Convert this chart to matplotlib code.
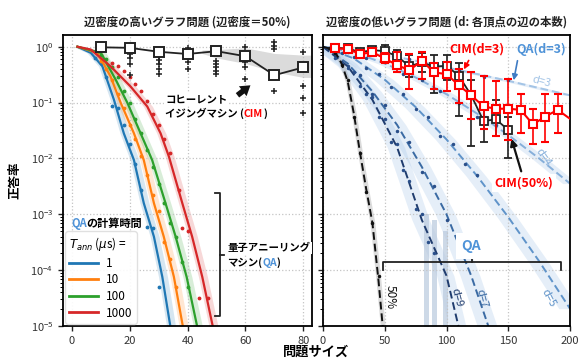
import numpy as np
import matplotlib
matplotlib.use("Agg")
import matplotlib.pyplot as plt
from matplotlib.lines import Line2D

plt.rcParams['font.family'] = ['Noto Sans CJK JP', 'DejaVu Sans']
plt.rcParams['mathtext.fontset'] = 'dejavusans'

W, H = 582, 360

# ---------------- left panel: QA curves (log10 of success probability) ----------------
qa1_x = [2, 6.6, 10.6, 14.6, 18, 21.5, 24.9, 28.4, 31.3, 33.9, 35]
qa1_log = [0, -0.11, -0.35, -0.95, -1.55, -2.03, -2.8, -3.4, -4.12, -4.95, -5.3]
qa10_x = [2, 8.9, 13.4, 16.9, 21.5, 24.9, 28.4, 31.8, 35.3, 38.2, 39.5]
qa10_log = [0, -0.11, -0.53, -1.0, -1.55, -2.03, -2.8, -3.4, -4.12, -4.95, -5.3]
qa100_x = [2, 10.1, 15.2, 19.2, 23.8, 27.8, 32.4, 35.9, 39.7, 43.1, 44.5]
qa100_log = [0, -0.11, -0.59, -1.0, -1.55, -2.03, -2.8, -3.4, -4.12, -4.95, -5.3]
qa1000_x = [2, 6.6, 13.4, 20.3, 26.1, 30.7, 33.6, 38.2, 41.6, 45.1, 48.5, 50]
qa1000_log = [0, -0.05, -0.35, -0.71, -1.07, -1.55, -1.97, -2.8, -3.4, -4.12, -4.95, -5.3]

qa1_dot_x = [8, 10, 12, 14, 16, 18, 20, 22, 24, 26, 28, 30]
qa1_dot_log = [-0.2, -0.3, -0.55, -1.06, -1.1, -1.4, -1.75, -2.1, -2.56, -3.22, -3.25, -4.3]
qa10_dot_x = [10, 12, 14, 16, 18, 20, 22, 24, 26, 28, 30, 32, 34, 36]
qa10_dot_log = [-0.25, -0.4, -0.6, -0.85, -1.1, -1.4, -1.65, -1.95, -2.3, -2.65, -2.95, -3.5, -3.8, -4.3]
qa100_dot_x = [10, 12, 14, 16, 18, 20, 22, 24, 26, 28, 30, 32, 34, 36, 38, 40]
qa100_dot_log = [-0.15, -0.22, -0.37, -0.55, -0.8, -1.0, -1.3, -1.55, -1.85, -2.15, -2.45, -2.8, -3.15, -3.4, -3.85, -4.3]
qa1000_dot_x = [14, 16, 18, 20, 22, 24, 26, 28, 30, 32, 34, 37, 38, 40, 44, 47]
qa1000_dot_log = [-0.3, -0.34, -0.43, -0.55, -0.67, -0.79, -0.98, -1.2, -1.4, -1.65, -1.9, -2.56, -3.25, -3.3, -4.5, -4.5]

t_ann = ['1', '10', '100', '1000']
qa_colors = ['#1f77b4', '#ff7f0e', '#2ca02c', '#d62728']

# left panel: CIM
cim_hd_x = [10, 20, 30, 40, 50, 60, 70, 80]
cim_hd_log = [-0.01, -0.02, -0.09, -0.13, -0.08, -0.17, -0.51, -0.37]
cim_hd_runs = [[0.0],
               [-0.13, -0.21, -0.31, -0.51],
               [-0.16, -0.23, -0.31, -0.40, -0.49],
               [-0.02, -0.28, -0.40],
               [-0.04, -0.25, -0.31, -0.37, -0.43, -0.49],
               [-0.01, -0.28, -0.37, -0.58],
               [0.08, 0.02, -0.04, -0.79],
               [-0.10, -0.70, -0.91, -1.18]]
cim_band_x = [45, 50, 60, 70, 80, 83]
cim_band_hi = [-0.06, -0.05, -0.02, -0.12, -0.15, -0.15]
cim_band_lo = [-0.12, -0.20, -0.30, -0.45, -0.55, -0.55]

# ---------------- right panel ----------------
qa50_x = [0, 5, 10, 15, 20, 25, 30, 35, 40, 45, 50]
qa50_log = [0, -0.03, -0.1, -0.3, -0.62, -1.2, -1.9, -2.55, -3.15, -4.2, -5.4]
qa50_dot_x = [5, 10, 15, 20, 25, 30, 35, 40, 45]
qa50_dot_log = [-0.03, -0.12, -0.32, -0.6, -1.25, -1.9, -2.6, -3.15, -4.1]

d_labels = ['d=3', 'd=4', 'd=5', 'd=7', 'd=9']
d_colors = ['#a3c4e6', '#86afda', '#5f93c9', '#3a6aa3', '#1f3c6e']
qad_x = [[0, 25, 50, 75, 100, 125, 150, 175, 200],
         [0, 25, 50, 75, 100, 125, 150, 175, 200],
         [0, 25, 50, 75, 100, 125, 150, 175, 200],
         [0, 20, 40, 60, 80, 100, 120, 140],
         [0, 20, 40, 60, 80, 100, 115]]
qad_log = [[0, -0.05, -0.14, -0.25, -0.37, -0.49, -0.61, -0.74, -0.87],
           [0, -0.1, -0.3, -0.55, -0.85, -1.2, -1.58, -2.0, -2.45],
           [0, -0.21, -0.59, -1.08, -1.66, -2.32, -3.05, -3.84, -4.69],
           [0, -0.3, -0.8, -1.4, -2.15, -3.0, -4.1, -5.4],
           [0, -0.35, -0.95, -1.8, -3.1, -4.1, -5.5]]
qad_dot_x = [[30, 50, 70, 90, 110, 130, 150],
             [20, 35, 50, 65, 80, 95, 110, 125, 140],
             [15, 25, 35, 45, 55, 65, 75, 85, 95, 105, 115, 125],
             [10, 20, 30, 40, 50, 60, 70, 80, 90, 100, 110],
             [10, 15, 20, 25, 30, 35, 40, 45, 50, 55, 60, 65, 70, 75, 80, 85, 90]]
qad_dot_log = [[-0.1, -0.15, -0.22, -0.33, -0.42, -0.55, -0.6],
               [-0.1, -0.2, -0.28, -0.48, -0.6, -0.8, -1.0, -1.25, -1.4],
               [-0.12, -0.18, -0.38, -0.48, -0.72, -0.85, -1.12, -1.25, -1.6, -1.75, -2.1, -2.3],
               [-0.12, -0.35, -0.5, -0.85, -1.05, -1.5, -1.7, -2.25, -2.5, -3.1, -3.4],
               [-0.2, -0.3, -0.38, -0.45, -0.7, -0.85, -0.9, -1.25, -1.3, -1.7, -1.75, -2.2, -2.4, -2.9, -3.0, -3.5, -3.7]]
qa_zero_x = [[82, 86], [88, 92], [97, 101]]
qa_zero_top = [-3.0, -3.1, -3.3]

cim3_x = [10, 20, 30, 40, 50, 60, 70, 80, 90, 100, 110, 120, 130, 140, 150, 160, 170, 180, 190, 200]
cim3_log = [-0.03, -0.04, -0.13, -0.10, -0.21, -0.33, -0.42, -0.25, -0.46, -0.49,
            -0.69, -0.87, -1.07, -1.11, -1.11, -1.13, -1.39, -1.25, -1.13, -1.29]
cim3_lo = [-0.06, -0.07, -0.18, -0.15, -0.30, -0.46, -0.76, -0.57, -0.76, -0.80,
           -1.00, -1.30, -1.47, -1.60, -1.67, -1.55, -1.74, -1.70, -1.55, -1.70]
cim3_hi = [0.0, -0.01, -0.08, -0.05, -0.12, -0.10, -0.13, -0.10, -0.30, -0.28,
           -0.40, -0.46, -0.52, -0.62, -0.58, -0.85, -1.12, -0.85, -0.85, -0.90]

cim50_x = [10, 20, 30, 40, 50, 60, 70, 80, 90, 100, 110, 120, 130, 140, 150]
cim50_log = [-0.02, -0.03, -0.10, -0.06, -0.08, -0.17, -0.35, -0.28, -0.36, -0.34,
             -0.52, -0.87, -1.33, -1.30, -1.49]
cim50_lo = [-0.05, -0.06, -0.15, -0.12, -0.20, -0.32, -0.55, -0.45, -0.82, -0.60,
            -1.24, -1.77, -1.70, -1.60, -2.00]
cim50_hi = [0.0, 0.0, -0.05, 0.0, 0.03, -0.05, -0.15, -0.12, -0.15, -0.15,
            -0.30, -0.60, -1.00, -0.95, -1.25]

QA_BLUE = '#4f93d8'


def fxy(x, y):
    return (x / W, 1 - y / H)


def p10(v):
    return 10.0 ** np.asarray(v, dtype=float)


fig = plt.figure(figsize=(W / 100, H / 100), dpi=100)
ax1 = fig.add_axes([63 / W, 1 - 326 / H, 249 / W, 291 / H])
ax2 = fig.add_axes([323 / W, 1 - 326 / H, 247 / W, 291 / H], sharey=ax1)

for ax in (ax1, ax2):
    ax.set_yscale('log')
    ax.set_ylim(1e-5, 10 ** 0.21)
    ax.grid(True, which='major', linestyle=':', color='#c4c4c4', lw=0.9)
    for s in ax.spines.values():
        s.set_linewidth(1.3)
    ax.tick_params(labelsize=8, colors='#222', labelcolor='#333', length=3.5, width=1)
    ax.tick_params(which='minor', length=2, width=0.7)

ax1.set_xlim(-3, 83)
ax1.set_xticks([0, 20, 40, 60, 80])
ax2.set_xlim(0, 200)
ax2.set_xticks([0, 50, 100, 150, 200])
ax2.tick_params(labelleft=False)

# ---- left panel ----
qa_lines = [(qa1_x, qa1_log, qa1_dot_x, qa1_dot_log),
            (qa10_x, qa10_log, qa10_dot_x, qa10_dot_log),
            (qa100_x, qa100_log, qa100_dot_x, qa100_dot_log),
            (qa1000_x, qa1000_log, qa1000_dot_x, qa1000_dot_log)]
handles = []
for (xs, ls, dx, dl), c, lab in zip(qa_lines, qa_colors, t_ann):
    xs = np.array(xs)
    ax1.fill_betweenx(p10(ls), xs - 1.3, xs + 1.8, color=c, alpha=0.18, lw=0)
    h, = ax1.plot(xs, p10(ls), color=c, lw=1.6, label=lab)
    ax1.plot(dx, p10(dl), '.', color=c, ms=3.5)
    handles.append(h)

ax1.fill_between(cim_band_x, p10(cim_band_lo), p10(cim_band_hi), color='#999999', alpha=0.35, lw=0)
for x, runs in zip(cim_hd_x, cim_hd_runs):
    ax1.plot([x] * len(runs), p10(runs), '+', color='#222', ms=5, mew=1.1)
ax1.plot(cim_hd_x, p10(cim_hd_log), '-s', color='#222', lw=1.3, ms=6.5,
         mfc='white', mec='#222', mew=1.4, zorder=5)

leg = ax1.legend(handles=handles, title='$T_{ann}$ ($\\mu$s) =', loc='lower left',
                 bbox_to_anchor=(0.0, 0.0), fontsize=8.5, title_fontsize=8.5,
                 handlelength=2.4, labelspacing=0.3, borderpad=0.35, borderaxespad=0.2,
                 handletextpad=0.7, frameon=True, edgecolor='#dddddd', framealpha=0.9)
leg._legend_box.align = 'left'
for l in leg.get_lines():
    l.set_linewidth(2)

# ---- right panel ----
band_w = [(5, 5), (6, 6), (9, 7), (9, 7), (8, 6)]
for xs, ls, (bl, br) in zip(qad_x, qad_log, band_w):
    xs = np.array(xs)
    ax2.fill_betweenx(p10(ls), xs - bl, xs + br, color='#a9c8ea', alpha=0.3, lw=0)
for (a, b), top in zip(qa_zero_x, qa_zero_top):
    ax2.fill_between([a, b], [1e-6, 1e-6], [10 ** top, 10 ** top], color='#b9c9dd', alpha=0.7, lw=0)
for xs, ls, dx, dl, c in zip(qad_x, qad_log, qad_dot_x, qad_dot_log, d_colors):
    ax2.plot(xs, p10(ls), '--', color=c, lw=1.4, dashes=(4, 2))
    ax2.plot(dx, p10(dl), '.', color='#2a4f8a', ms=3)

xs = np.array(qa50_x)
ax2.fill_betweenx(p10(qa50_log), xs - 2, xs + 2, color='#999999', alpha=0.35, lw=0)
ax2.plot(qa50_x, p10(qa50_log), '--', color='#111', lw=1.4, dashes=(4, 2))
ax2.plot(qa50_dot_x, p10(qa50_dot_log), '.', color='#111', ms=3)

y50 = p10(cim50_log)
ax2.errorbar(cim50_x, y50, yerr=[y50 - p10(cim50_lo), p10(cim50_hi) - y50],
             color='#222', marker='s', ms=6, mfc='white', mec='#222', mew=1.3,
             lw=1.3, elinewidth=1.2, capsize=3, zorder=5)
y3 = p10(cim3_log)
ax2.plot(cim3_x[-2:], y3[-2:], color='red', lw=1.5, zorder=6)
ax2.errorbar(cim3_x[:-1], y3[:-1], yerr=[y3[:-1] - p10(cim3_lo[:-1]), p10(cim3_hi[:-1]) - y3[:-1]],
             color='red', marker='s', ms=6, mfc='white', mec='red', mew=1.5,
             lw=1.5, elinewidth=1.2, capsize=3, zorder=6)


# ---- texts ----
def ftext(x, y, s, **kw):
    return fig.text(*fxy(x, y), s, **kw)


def multi(x, y, parts, **kw):
    t = ax1.annotate(parts[0][0], xy=fxy(x, y), xycoords='figure fraction', color=parts[0][1],
                     va='bottom', ha='left', annotation_clip=False, zorder=10, **kw)
    for s, c in parts[1:]:
        t = ax1.annotate(s, xy=(1, 0), xycoords=t, color=c, va='bottom', ha='left',
                         annotation_clip=False, zorder=10, **kw)
    return t


ftext(187, 22, '辺密度の高いグラフ問題 (辺密度＝50%)', ha='center', va='center', fontsize=8.2, fontweight='bold', color='#222')
ftext(447, 22, '辺密度の低いグラフ問題 (d: 各頂点の辺の本数)', ha='center', va='center', fontsize=8.2, fontweight='bold', color='#222')
ftext(15, 180, '正答率', ha='center', va='center', rotation=90, fontsize=9, fontweight='bold')
ftext(316, 352, '問題サイズ', ha='center', va='center', fontsize=9.5, fontweight='bold')

ftext(165, 99, 'コヒーレント', ha='left', va='center', fontsize=7.5, fontweight='bold',
      bbox=dict(fc='white', ec='none', pad=1))
multi(165, 119, [('イジングマシン (', 'black'), ('CIM', 'red'), (')', 'black')],
      fontsize=7.5, fontweight='bold')
ax1.annotate('', xy=(62.5, 10 ** -0.66), xytext=(56.5, 10 ** -0.9),
             arrowprops=dict(arrowstyle='simple,head_width=0.9,head_length=0.7,tail_width=0.4',
                             color='#111', lw=0))

multi(71, 230, [('QA', QA_BLUE), ('の計算時間', 'black')], fontsize=8, fontweight='bold')

# QA bracket in left panel
fig.add_artist(Line2D([215 / W, 220 / W, 220 / W, 215 / W],
                      [1 - 193 / H, 1 - 193 / H, 1 - 316 / H, 1 - 316 / H], color='#222', lw=1.3))
fig.add_artist(Line2D([220 / W, 224 / W], [1 - 255 / H, 1 - 255 / H], color='#222', lw=1.3))
ftext(228, 248, '量子アニーリング', ha='left', va='center', fontsize=7.5, fontweight='bold',
      bbox=dict(fc='white', ec='none', pad=0.5))
multi(227, 268, [('マシン(', 'black'), ('QA', QA_BLUE), (')', 'black')], fontsize=7.5, fontweight='bold')

# right panel labels
ftext(477, 49, 'CIM(d=3)', ha='center', va='center', color='red', fontsize=9, fontweight='bold')
ftext(541, 49, 'QA(d=3)', ha='center', va='center', color=QA_BLUE, fontsize=9, fontweight='bold')
ftext(524, 183, 'CIM(50%)', ha='center', va='center', color='red', fontsize=9, fontweight='bold',
      bbox=dict(fc='white', ec='none', pad=1.5))
ftext(471, 246, 'QA', ha='center', va='center', color=QA_BLUE, fontsize=10, fontweight='bold',
      bbox=dict(fc='white', ec='none', pad=4))

ax2.annotate('', xy=(113, 10 ** -0.45), xytext=fxy(470, 58), textcoords='figure fraction',
             arrowprops=dict(arrowstyle='-|>', color='red', lw=1.2, mutation_scale=8))
ax2.annotate('', xy=(154, 10 ** -0.65), xytext=fxy(518, 58), textcoords='figure fraction',
             arrowprops=dict(arrowstyle='-|>', color='#3f7cc4', lw=1.2, mutation_scale=8))
ax2.annotate('', xy=(152, 10 ** -1.6), xytext=fxy(522, 174), textcoords='figure fraction',
             arrowprops=dict(arrowstyle='-|>', color='#111', lw=1.6, mutation_scale=10))

fig.add_artist(Line2D([383 / W, 383 / W, 561 / W, 561 / W],
                      [1 - 270 / H, 1 - 262 / H, 1 - 262 / H, 1 - 270 / H], color='#222', lw=1.3))
fig.add_artist(Line2D([472 / W, 472 / W], [1 - 262 / H, 1 - 258 / H], color='#222', lw=1.3))

ftext(390, 297, '50%', ha='center', va='center', rotation=-90, fontsize=8.5, color='#111')
ftext(457, 298, 'd=9', ha='center', va='center', rotation=-75, fontsize=8, color=d_colors[4])
ftext(482, 298, 'd=7', ha='center', va='center', rotation=-75, fontsize=8, color=d_colors[3])
ftext(549, 298, 'd=5', ha='center', va='center', rotation=-62, fontsize=8, color=d_colors[2])
ftext(543, 157, 'd=4', ha='center', va='center', rotation=-55, fontsize=8, color=d_colors[1])
ftext(541, 82, 'd=3', ha='center', va='center', rotation=-15, fontsize=8, color=d_colors[0])

fig.savefig('out.png', dpi=100)
